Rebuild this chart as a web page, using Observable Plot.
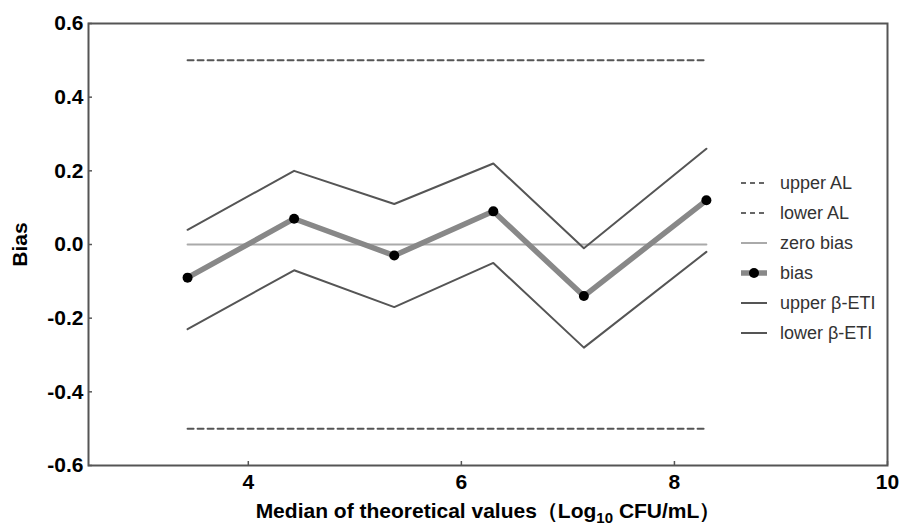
<!DOCTYPE html>
<html>
<head>
<meta charset="utf-8">
<script src="https://cdn.jsdelivr.net/npm/d3@7"></script>
<script src="https://cdn.jsdelivr.net/npm/@observablehq/plot@0.6"></script>
<style>
  body { margin: 0; background: white; }
  #chart svg { display: block; }
</style>
</head>
<body>
<div id="chart"></div>
<script>
const xVals = [3.43, 4.43, 5.37, 6.30, 7.15, 8.30];
const bias = [-0.09, 0.07, -0.03, 0.09, -0.14, 0.12];
const upperETI = [0.04, 0.20, 0.11, 0.22, -0.01, 0.26];
const lowerETI = [-0.23, -0.07, -0.17, -0.05, -0.28, -0.02];
const upperAL = [0.5, 0.5, 0.5, 0.5, 0.5, 0.5];
const lowerAL = [-0.5, -0.5, -0.5, -0.5, -0.5, -0.5];
const zeroBias = [0, 0, 0, 0, 0, 0];
const xTicks = [4, 6, 8, 10];
const yTicks = [-0.6, -0.4, -0.2, 0, 0.2, 0.4, 0.6];
const legendLabels = ["upper AL", "lower AL", "zero bias", "bias", "upper β-ETI", "lower β-ETI"];

const rows = xVals.map((x, i) => ({
  x, bias: bias[i], up: upperETI[i], lo: lowerETI[i],
  ual: upperAL[i], lal: lowerAL[i], zero: zeroBias[i]
}));

const font = "'Liberation Sans', Arial, sans-serif";

const chart = Plot.plot({
  width: 899,
  height: 525,
  marginLeft: 88,
  marginRight: 12,
  marginTop: 23,
  marginBottom: 60,
  x: { domain: [2.5, 10] },
  y: { domain: [-0.6, 0.6] },
  style: { fontFamily: font, background: "white", color: "black" },
  marks: [
    Plot.lineY(rows, { x: "x", y: "ual", stroke: "#555", strokeWidth: 2, strokeDasharray: "6,4" }),
    Plot.lineY(rows, { x: "x", y: "lal", stroke: "#555", strokeWidth: 2, strokeDasharray: "6,4" }),
    Plot.lineY(rows, { x: "x", y: "zero", stroke: "#aaa", strokeWidth: 2 }),
    Plot.lineY(rows, { x: "x", y: "up", stroke: "#555", strokeWidth: 2 }),
    Plot.lineY(rows, { x: "x", y: "lo", stroke: "#555", strokeWidth: 2 }),
    Plot.lineY(rows, { x: "x", y: "bias", stroke: "#888", strokeWidth: 5.5 }),
    Plot.dot(rows, { x: "x", y: "bias", r: 5, fill: "black", stroke: "none" }),
    Plot.frame({ stroke: "#555", strokeWidth: 2 }),
    Plot.axisX({ ticks: xTicks, tickSize: -4, tickPadding: 13, fontSize: 21, fontWeight: "bold", label: null, stroke: "#555", strokeWidth: 1.5 }),
    Plot.axisY({ ticks: yTicks, tickSize: -4, tickPadding: 9, fontSize: 21, fontWeight: "bold", tickFormat: d => d.toFixed(1),
      label: "Bias", labelAnchor: "center", labelArrow: "none", labelOffset: 76, stroke: "#555", strokeWidth: 1.5 })
  ]
});

document.getElementById("chart").appendChild(chart);

const svg = d3.select(chart);

// X axis title with subscript
const xt = svg.append("text")
  .attr("x", 488).attr("y", 518)
  .attr("text-anchor", "middle")
  .attr("font-family", font)
  .attr("font-size", 21)
  .attr("font-weight", "bold")
  .attr("fill", "black");
xt.append("tspan").text("Median of theoretical values（Log");
xt.append("tspan").attr("font-size", 15).attr("dy", 5).text("10");
xt.append("tspan").attr("dy", -5).text(" CFU/mL）");

// Legend
const lg = svg.append("g").attr("font-family", font).attr("font-size", 18).attr("fill", "#333").attr("text-anchor", "start");
const x0 = 741, x1 = 767, tx = 780, y0 = 183, dyRow = 30;
legendLabels.forEach((lab, i) => {
  const y = y0 + i * dyRow;
  if (i < 2) {
    lg.append("line").attr("x1", x0).attr("x2", x1).attr("y1", y).attr("y2", y)
      .attr("stroke", "#666").attr("stroke-width", 2).attr("stroke-dasharray", "5,4");
  } else if (i === 2) {
    lg.append("line").attr("x1", x0).attr("x2", x1).attr("y1", y).attr("y2", y)
      .attr("stroke", "#aaa").attr("stroke-width", 2);
  } else if (i === 3) {
    lg.append("line").attr("x1", x0).attr("x2", x1).attr("y1", y).attr("y2", y)
      .attr("stroke", "#888").attr("stroke-width", 5.5);
    lg.append("circle").attr("cx", (x0 + x1) / 2).attr("cy", y).attr("r", 5).attr("fill", "black");
  } else {
    lg.append("line").attr("x1", x0).attr("x2", x1).attr("y1", y).attr("y2", y)
      .attr("stroke", "#555").attr("stroke-width", 2);
  }
  lg.append("text").attr("x", tx).attr("y", y).attr("dy", "0.35em").text(lab);
});
</script>
</body>
</html>
